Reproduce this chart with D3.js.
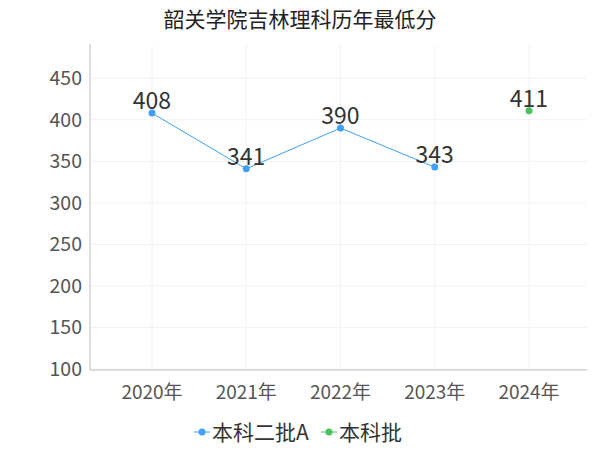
<!DOCTYPE html><html><head><meta charset="utf-8"><script src="https://cdn.jsdelivr.net/npm/d3@7"></script>
<style>body{margin:0;background:#fff}text{font-family:"Noto Sans CJK SC","Noto Sans",sans-serif}</style></head><body>
<svg id="c" width="600" height="450"></svg>
<script>
const categories=["2020年","2021年","2022年","2023年","2024年"];
const seriesA=[408,341,390,343,null];
const seriesB=[null,null,null,null,411];
const yTicks=[100,150,200,250,300,350,400,450];
const svg=d3.select("#c");
const x=d3.scalePoint().domain(categories).range([152,529]);
const y=d3.scaleLinear().domain([100,490]).range([369,45]);
svg.append("text").attr("x",300).attr("y",27).attr("text-anchor","middle").attr("font-size",21).attr("fill","#222").text("韶关学院吉林理科历年最低分");
const g=svg.append("g");
yTicks.forEach(t=>g.append("line").attr("x1",91).attr("x2",587).attr("y1",y(t)).attr("y2",y(t)).attr("stroke","#f2f2f2"));
categories.forEach(c=>g.append("line").attr("x1",x(c)).attr("x2",x(c)).attr("y1",45).attr("y2",369).attr("stroke","#f2f2f2"));
g.append("line").attr("x1",90).attr("x2",90).attr("y1",44).attr("y2",370).attr("stroke","#bbb");
g.append("line").attr("x1",90).attr("x2",587).attr("y1",370).attr("y2",370).attr("stroke","#bbb");
yTicks.forEach(t=>g.append("text").attr("x",82).attr("y",y(t)+7).attr("text-anchor","end").attr("font-size",19.5).attr("fill","#555").text(t));
categories.forEach(c=>g.append("text").attr("x",x(c)).attr("y",399).attr("text-anchor","middle").attr("font-size",19).attr("fill","#555").text(c));
function draw(data,color){
  const pts=categories.map((c,i)=>[c,data[i]]).filter(d=>d[1]!=null);
  svg.append("path").attr("d",d3.line().x(d=>x(d[0])).y(d=>y(d[1]))(pts)).attr("fill","none").attr("stroke",color).attr("stroke-width",1);
  pts.forEach(d=>{
    svg.append("circle").attr("cx",x(d[0])).attr("cy",y(d[1])).attr("r",3.5).attr("fill",color);
    svg.append("text").attr("x",x(d[0])).attr("y",y(d[1])-4).attr("text-anchor","middle").attr("font-size",23).attr("fill","#333").text(d[1]);
  });
}
draw(seriesA,"#3fa0f5");draw(seriesB,"#4cc25e");
const lg=[{n:"本科二批A",c:"#3fa0f5",x:194},{n:"本科批",c:"#4cc25e",x:321}];
lg.forEach(l=>{
  svg.append("line").attr("x1",l.x).attr("x2",l.x+16).attr("y1",432).attr("y2",432).attr("stroke",l.c);
  svg.append("circle").attr("cx",l.x+8).attr("cy",432).attr("r",3.5).attr("fill",l.c);
  svg.append("text").attr("x",l.x+18).attr("y",440).attr("font-size",21).attr("fill","#333").text(l.n);
});
</script></body></html>
